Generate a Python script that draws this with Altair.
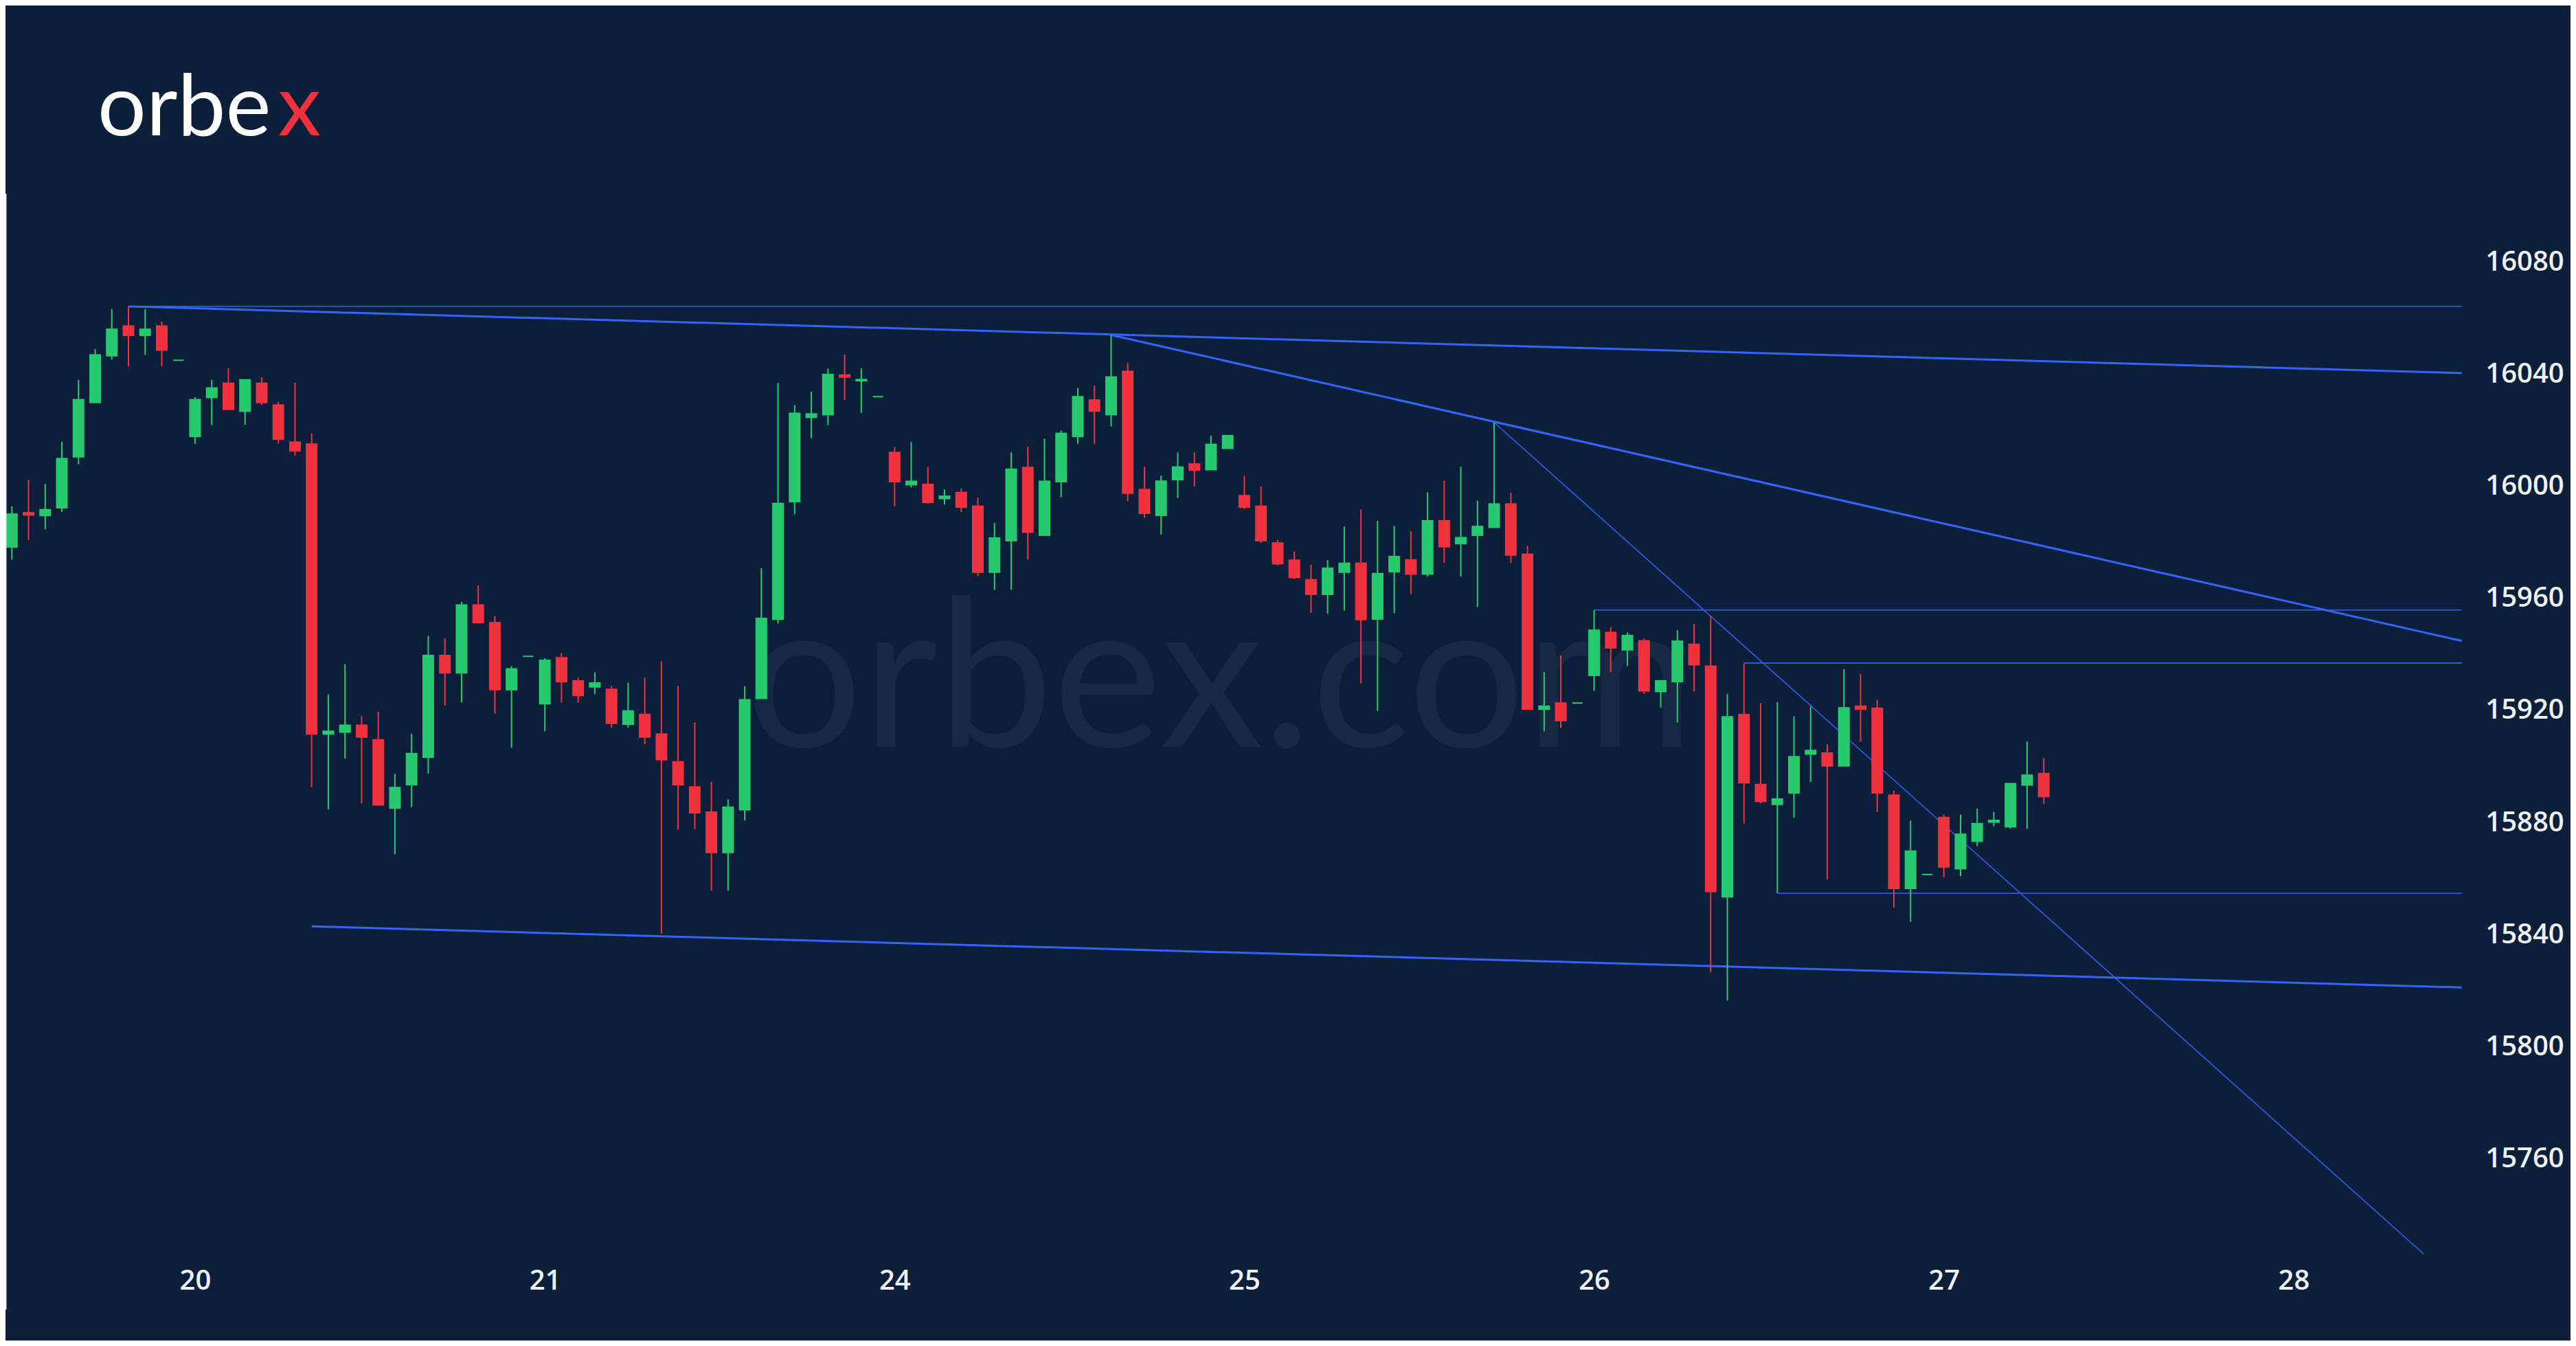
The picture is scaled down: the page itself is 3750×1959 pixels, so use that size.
import altair as alt
import pandas as pd

# ---------------- data ----------------
opens = [15978.3, 15990.5, 15989.5, 15992.3, 16010.5, 16029.8, 16046.5, 16057.1, 16053.8, 16057.1,
         16044.9, 16017.7, 16031.6, 16036.7, 16026.7, 16036.7, 16028.9, 16015.7, 16015.0, 15911.6,
         15912.3, 15914.7, 15909.5, 15885.2, 15893.5, 15903.3, 15939.6, 15933.4, 15957.6, 15951.3,
         15927.4, 15939.3, 15922.4, 15938.8, 15930.5, 15928.4, 15927.5, 15915.1, 15918.6, 15911.6,
         15901.7, 15892.7, 15883.7, 15869.3, 15884.6, 15924.3, 15952.5, 15994.5, 16024.5, 16025.5,
         16039.6, 16037.6, 16031.9, 16012.0, 16000.5, 16000.6, 15995.6, 15997.7, 15992.8, 15969.3,
         15980.5, 16006.7, 15982.5, 16001.6, 16017.7, 16030.7, 16025.5, 16040.9, 15998.8, 15989.6,
         16002.3, 16007.9, 16005.9, 16013.5, 15996.6, 15992.8, 15979.7, 15973.6, 15966.6, 15961.4,
         15969.3, 15972.5, 15952.6, 15969.5, 15973.7, 15968.6, 15987.6, 15979.5, 15982.5, 15985.3,
         15993.6, 15975.7, 15920.4, 15922.6, 15922.6, 15932.5, 15947.8, 15941.6, 15944.8, 15926.7,
         15930.3, 15943.6, 15935.8, 15853.5, 15918.5, 15893.6, 15886.5, 15890.6, 15904.4, 15904.8,
         15900.2, 15921.5, 15920.8, 15889.8, 15856.5, 15861.5, 15881.8, 15863.6, 15873.4, 15880.2,
         15878.5, 15893.4, 15897.5]
highs = [15992.8, 16002.2, 16000.8, 16015.8, 16037.9, 16048.9, 16063.1, 16064.1, 16063.1, 16058.7,
         16044.9, 16031.7, 16037.9, 16042.0, 16037.9, 16038.8, 16030.0, 16036.9, 16018.8, 15925.7,
         15936.5, 15917.9, 15919.6, 15897.4, 15911.7, 15946.6, 15945.7, 15958.7, 15964.6, 15953.7,
         15935.8, 15939.3, 15938.6, 15940.5, 15931.7, 15933.6, 15928.7, 15929.9, 15931.7, 15937.6,
         15928.7, 15915.7, 15894.6, 15888.3, 15928.7, 15970.7, 16036.8, 16028.9, 16033.7, 16041.9,
         16046.9, 16042.0, 16031.9, 16013.9, 16015.7, 16006.8, 15998.8, 15999.1, 15995.9, 15986.9,
         16012.0, 16014.1, 16016.9, 16019.8, 16035.0, 16035.9, 16053.9, 16043.9, 16006.8, 16003.7,
         16012.0, 16012.0, 16018.0, 16018.0, 16003.7, 15999.9, 15980.8, 15976.7, 15972.0, 15973.6,
         15985.6, 15991.7, 15987.6, 15985.8, 15983.9, 15997.8, 16001.9, 16006.9, 15994.8, 16022.7,
         15997.6, 15978.6, 15933.6, 15939.6, 15922.6, 15955.8, 15949.7, 15947.8, 15945.6, 15930.5,
         15948.6, 15950.8, 15953.8, 15925.9, 15936.9, 15922.6, 15923.0, 15917.9, 15921.5, 15907.9,
         15934.7, 15933.0, 15923.7, 15891.5, 15880.7, 15861.5, 15882.8, 15882.8, 15885.0, 15883.8,
         15893.9, 15908.9, 15903.0]
lows = [15973.8, 15980.8, 15984.6, 15990.7, 16007.8, 16029.8, 16045.1, 16042.7, 16046.8, 16042.7,
        16044.9, 16015.1, 16021.8, 16027.1, 16021.8, 16028.9, 16015.1, 16010.9, 15892.6, 15884.7,
        15902.8, 15886.9, 15886.3, 15868.7, 15885.5, 15897.5, 15921.7, 15922.9, 15951.3, 15918.9,
        15906.7, 15939.3, 15912.6, 15922.8, 15922.8, 15925.8, 15913.9, 15913.9, 15907.9, 15840.4,
        15877.5, 15877.5, 15855.7, 15855.7, 15880.8, 15924.3, 15951.0, 15990.0, 16017.1, 16021.8,
        16030.7, 16026.1, 16031.9, 15992.8, 15999.5, 15993.8, 15993.5, 15990.7, 15967.9, 15963.0,
        15963.0, 15973.8, 15982.5, 15996.0, 16015.1, 16015.1, 16021.3, 15994.7, 15988.7, 15982.7,
        15995.8, 15999.9, 16005.9, 16013.5, 15991.8, 15979.7, 15971.7, 15966.8, 15954.8, 15954.5,
        15955.6, 15929.6, 15919.8, 15954.7, 15961.5, 15967.7, 15972.6, 15967.7, 15956.9, 15985.3,
        15972.6, 15920.4, 15912.6, 15913.7, 15922.6, 15927.0, 15933.6, 15935.8, 15925.9, 15921.0,
        15915.7, 15926.8, 15826.6, 15816.5, 15879.7, 15886.9, 15854.8, 15881.8, 15894.5, 15859.7,
        15900.2, 15908.9, 15883.8, 15849.7, 15844.6, 15861.5, 15860.5, 15860.9, 15871.6, 15878.7,
        15877.8, 15877.8, 15886.7]
closes = [15990.0, 15989.7, 15991.6, 16009.8, 16030.8, 16046.8, 16055.9, 16053.8, 16055.9, 16048.5,
          16044.9, 16030.8, 16035.0, 16027.4, 16037.9, 16029.8, 16016.7, 16012.6, 15911.6, 15912.6,
          15914.7, 15910.5, 15886.3, 15892.5, 15904.6, 15939.6, 15933.4, 15957.6, 15951.3, 15927.4,
          15934.8, 15939.3, 15937.9, 15930.3, 15925.3, 15929.8, 15915.4, 15919.8, 15910.5, 15902.4,
          15893.5, 15883.5, 15869.3, 15885.5, 15923.8, 15952.8, 15993.8, 16026.0, 16025.7, 16039.8,
          16038.9, 16038.0, 16031.9, 16001.6, 16001.7, 15994.2, 15996.4, 15992.5, 15969.3, 15981.5,
          16006.0, 15983.6, 16001.7, 16018.8, 16031.9, 16026.8, 16038.9, 15997.5, 15990.3, 16001.8,
          16006.8, 16005.7, 16014.9, 16018.0, 15992.5, 15980.5, 15972.3, 15967.4, 15961.4, 15970.7,
          15972.5, 15952.4, 15968.8, 15974.9, 15968.6, 15987.6, 15978.4, 15981.6, 15985.6, 15993.6,
          15975.4, 15920.4, 15921.5, 15916.4, 15922.6, 15948.6, 15942.3, 15946.7, 15927.0, 15930.5,
          15944.7, 15936.3, 15855.4, 15917.7, 15894.2, 15887.6, 15888.4, 15903.5, 15905.7, 15900.2,
          15920.9, 15920.4, 15890.6, 15856.5, 15869.8, 15861.5, 15864.2, 15875.8, 15879.6, 15880.8,
          15893.9, 15896.9, 15889.3]

day_labels = ["20", "21", "24", "25", "26", "27", "28"]
day_first_bar = [11, 32, 53, 74, 95, 116, 137]
price_ticks = [15760, 15800, 15840, 15880, 15920, 15960, 16000, 16040, 16080]

# trend lines: start bar, start price, end bar, end price
thick_lines = {
    "upper_fall": (7, 16064.1, 147.1, 16040.3),
    "mid_fall": (66, 16053.9, 147.1, 15944.8),
    "support": (18, 15843.0, 147.1, 15821.2),
}
thin_lines = {
    "top_level": (7, 16064.1, 147.1, 16064.1),
    "steep_fall": (89, 16022.7, 144.8, 15726.2),
    "level_26_high": (95, 15955.8, 147.1, 15955.8),
    "level_26_mid": (104, 15936.9, 147.1, 15936.9),
    "level_26_low": (106, 15854.8, 147.1, 15854.8),
}

# ---------------- styling ----------------
BG = "#0b1e3a"
GREEN = "#27c96e"
RED = "#f0323f"
LINE_BLUE = "#3164f7"
THIN_BLUE = "#2c57dc"
TEXT = "#eef2f7"

candles = pd.DataFrame({
    "bar": list(range(len(opens))),
    "open": opens, "high": highs, "low": lows, "close": closes,
})
candles["dir"] = ["up" if c >= o else "down" for o, c in zip(opens, closes)]


def lines_frame(d):
    rows = []
    for name, (b0, p0, b1, p1) in d.items():
        rows.append({"name": name, "bar": b0, "price": p0})
        rows.append({"name": name, "bar": b1, "price": p1})
    return pd.DataFrame(rows)


thick_df = lines_frame(thick_lines)
thin_df = lines_frame(thin_lines)

W, H = 3734, 1943
xscale = alt.Scale(domain=[-0.177, 153.42], nice=False, zero=False)
yscale = alt.Scale(domain=[15695.29, 16171.40], nice=False, zero=False)

label_expr = " : ".join(
    f"datum.value == {b} ? '{t}'" for b, t in zip(day_first_bar, day_labels)
) + " : ''"

xaxis = alt.Axis(values=day_first_bar, labelExpr=label_expr, orient="bottom",
                 offset=-87, labelPadding=0, labelBaseline="middle",
                 domain=False, ticks=False, grid=False, title=None,
                 labelColor=TEXT, labelFont="Open Sans", labelFontSize=40,
                 labelFontWeight=600, labelOverlap=False, labelFlush=False)
yaxis = alt.Axis(values=price_ticks, format="d", orient="right",
                 offset=-67, labelPadding=0, labelAlign="center",
                 domain=False, ticks=False, grid=False, title=None,
                 labelColor=TEXT, labelFont="Open Sans", labelFontSize=40,
                 labelFontWeight=600, labelOverlap=False, labelFlush=False)

dir_color = alt.Scale(domain=["up", "down"], range=[GREEN, RED])

X = alt.X("bar:Q", scale=xscale, axis=xaxis)

watermark = alt.Chart(pd.DataFrame({"t": ["orbex.com"]})).mark_text(
    font="Lato", fontSize=300, align="center", baseline="alphabetic",
    color="#ffffff", opacity=0.045
).encode(text="t:N", x=alt.value(1768), y=alt.value(1079))

wicks = alt.Chart(candles).mark_rule(strokeWidth=2).encode(
    x=X,
    y=alt.Y("low:Q", scale=yscale, axis=yaxis),
    y2="high:Q",
    color=alt.Color("dir:N", scale=dir_color, legend=None),
)

bodies = alt.Chart(candles).mark_bar(size=15, strokeWidth=2).encode(
    x=X,
    y=alt.Y("open:Q", scale=yscale, axis=yaxis),
    y2="close:Q",
    color=alt.Color("dir:N", scale=dir_color, legend=None),
    stroke=alt.Stroke("dir:N", scale=dir_color, legend=None),
)

thick = alt.Chart(thick_df).mark_line(strokeWidth=3, color=LINE_BLUE).encode(
    x=X, y=alt.Y("price:Q", scale=yscale, axis=yaxis), detail="name:N"
)
thin = alt.Chart(thin_df).mark_line(strokeWidth=1.8, color=THIN_BLUE).encode(
    x=X, y=alt.Y("price:Q", scale=yscale, axis=yaxis), detail="name:N"
)

border = alt.Chart(pd.DataFrame({"a": [0]})).mark_rule(
    color="#e6ebf2", strokeWidth=3
).encode(x=alt.value(0), y=alt.value(274), y2=alt.value(1898))

logo_main = alt.Chart(pd.DataFrame({"t": ["orbe"]})).mark_text(
    font="Lato", fontSize=125, align="left", baseline="alphabetic", color="#ffffff"
).encode(text="t:N", x=alt.value(134), y=alt.value(189))
logo_x = alt.Chart(pd.DataFrame({"t": ["x"]})).mark_text(
    font="Lato", fontSize=125, align="right", baseline="alphabetic", color=RED
).encode(text="t:N", x=alt.value(459), y=alt.value(189))

chart = alt.layer(
    watermark, thin, thick, wicks, bodies, border, logo_main, logo_x
).properties(
    width=W, height=H, padding=0, autosize=alt.AutoSizeParams(type="none")
).configure(background=BG).configure_view(stroke=None)

chart.save("out.html", embed_options={"renderer": "svg", "actions": False})
